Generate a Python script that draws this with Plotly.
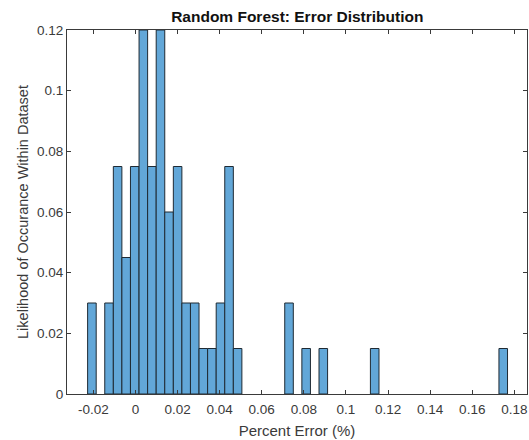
import plotly.graph_objects as go

# Histogram bins (centers) and normalised counts
bin_centers = [-0.02067, -0.01253, -0.00846, -0.00439, -0.00032, 0.00376, 0.00783,
               0.01190, 0.01597, 0.02004, 0.02411, 0.02818, 0.03225, 0.03633,
               0.04040, 0.04447, 0.04854, 0.07296, 0.08110, 0.08924, 0.11366, 0.17471]
likelihood = [0.030, 0.030, 0.075, 0.045, 0.075, 0.120, 0.075,
              0.120, 0.060, 0.075, 0.030, 0.030, 0.015, 0.015,
              0.030, 0.075, 0.015, 0.030, 0.015, 0.015, 0.015, 0.015]
bin_width = 0.00407

x_ticks = [-0.02, 0, 0.02, 0.04, 0.06, 0.08, 0.1, 0.12, 0.14, 0.16, 0.18]
x_labels = ["-0.02", "0", "0.02", "0.04", "0.06", "0.08", "0.1", "0.12", "0.14", "0.16", "0.18"]
y_ticks = [0, 0.02, 0.04, 0.06, 0.08, 0.1, 0.12]
y_labels = ["0", "0.02", "0.04", "0.06", "0.08", "0.1", "0.12"]

axis_color = "#3a3a3a"
font_family = "Liberation Sans, Arial, sans-serif"

fig = go.Figure(
    go.Bar(
        x=bin_centers,
        y=likelihood,
        width=bin_width,
        marker=dict(color="#62A7D8", line=dict(color="#1f2a33", width=1)),
    )
)

axis_common = dict(
    showline=True,
    linecolor=axis_color,
    linewidth=1,
    mirror="allticks",
    ticks="inside",
    ticklen=4,
    tickcolor=axis_color,
    showgrid=False,
    zeroline=False,
    automargin=False,
    tickfont=dict(family=font_family, size=13.5, color=axis_color),
)

fig.update_layout(
    width=529,
    height=440,
    margin=dict(l=67, r=2, t=30, b=46),
    paper_bgcolor="white",
    plot_bgcolor="white",
    showlegend=False,
    title=dict(
        text="<b>Random Forest: Error Distribution</b>",
        x=0.562,
        xanchor="center",
        y=1 - 17 / 440,
        yanchor="middle",
        yref="container",
        font=dict(family=font_family, size=15.5, color="#111111"),
    ),
    xaxis=dict(
        axis_common,
        range=[-0.0325, 0.186],
        tickvals=x_ticks,
        ticktext=x_labels,
        ticklabelstandoff=3,
        title=dict(text="Percent Error (%)", standoff=9,
                   font=dict(family=font_family, size=15, color=axis_color)),
    ),
    yaxis=dict(
        axis_common,
        range=[0, 0.12],
        tickvals=y_ticks,
        ticktext=y_labels,
        title=dict(text="Likelihood of Occurance Within Dataset", standoff=4,
                   font=dict(family=font_family, size=14.5, color=axis_color)),
    ),
)

fig.write_html("out.html")
